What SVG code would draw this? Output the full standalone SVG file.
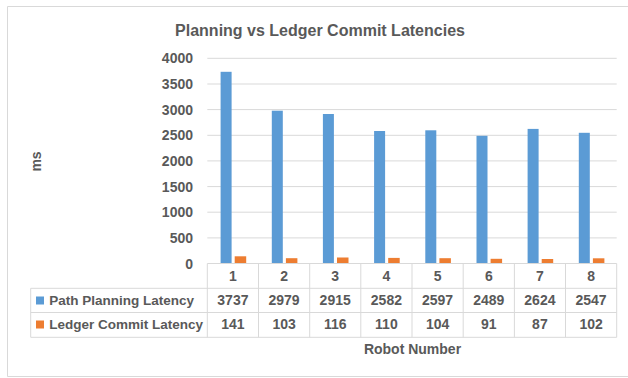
<svg xmlns="http://www.w3.org/2000/svg" width="628" height="378" viewBox="0 0 628 378">
  <style>
    text { font-family: "Liberation Sans", Arial, sans-serif; font-weight: bold; fill: #595959; }
    .tick { font-size: 14px; text-anchor: end; }
    .cell { font-size: 14px; text-anchor: middle; }
    .leg { font-size: 13.5px; }
    .grid { stroke: #D9D9D9; stroke-width: 1; fill: none; }
    .tbl { stroke: #D9D9D9; stroke-width: 1; fill: none; }
    .blue { fill: #5B9BD5; }
    .orange { fill: #ED7D31; }
  </style>
  <rect x="0" y="0" width="628" height="378" fill="#FFFFFF"/>
  <g id="frame">
    <path d="M628,6.5 H7.5 V376.5 H628" stroke="#D9D9D9" stroke-width="1" fill="none"/>
  </g>

  <g id="title">
    <text x="320" y="35.5" font-size="16" text-anchor="middle">Planning vs Ledger Commit Latencies</text>
  </g>

  <g id="y-axis">
    <text transform="translate(41,161.5) rotate(-90)" font-size="14" text-anchor="middle">ms</text>
    <text class="tick" x="193" y="63.3">4000</text>
    <text class="tick" x="193" y="89">3500</text>
    <text class="tick" x="193" y="114.6">3000</text>
    <text class="tick" x="193" y="140.3">2500</text>
    <text class="tick" x="193" y="165.9">2000</text>
    <text class="tick" x="193" y="191.6">1500</text>
    <text class="tick" x="193" y="217.2">1000</text>
    <text class="tick" x="193" y="242.9">500</text>
    <text class="tick" x="193" y="268.5">0</text>
  </g>

  <g id="gridlines">
    <path class="grid" d="M207.3,58.3 H616.7 M207.3,84 H616.7 M207.3,109.6 H616.7 M207.3,135.3 H616.7 M207.3,160.9 H616.7 M207.3,186.6 H616.7 M207.3,212.2 H616.7 M207.3,237.9 H616.7"/>
  </g>

  <g id="series-path-planning">
    <rect class="blue" x="220.6" y="71.8" width="11" height="191.7"/>
    <rect class="blue" x="271.8" y="110.7" width="11" height="152.8"/>
    <rect class="blue" x="322.9" y="114.0" width="11" height="149.5"/>
    <rect class="blue" x="374.1" y="131.0" width="11" height="132.5"/>
    <rect class="blue" x="425.3" y="130.3" width="11" height="133.2"/>
    <rect class="blue" x="476.5" y="135.8" width="11" height="127.7"/>
    <rect class="blue" x="527.6" y="128.9" width="11" height="134.6"/>
    <rect class="blue" x="578.8" y="132.8" width="11" height="130.7"/>
  </g>

  <g id="series-ledger-commit">
    <rect class="orange" x="234.7" y="256.3" width="11.5" height="7.2"/>
    <rect class="orange" x="285.9" y="258.2" width="11.5" height="5.3"/>
    <rect class="orange" x="337.0" y="257.5" width="11.5" height="6.0"/>
    <rect class="orange" x="388.2" y="257.9" width="11.5" height="5.6"/>
    <rect class="orange" x="439.4" y="258.2" width="11.5" height="5.3"/>
    <rect class="orange" x="490.6" y="258.8" width="11.5" height="4.7"/>
    <rect class="orange" x="541.7" y="259.0" width="11.5" height="4.5"/>
    <rect class="orange" x="592.9" y="258.3" width="11.5" height="5.2"/>
  </g>

  <g id="data-table">
    <path class="tbl" d="M207.3,263.5 H616.7 M30.7,288.3 H616.7 M30.7,312.5 H616.7 M30.7,337.3 H616.7 M30.7,288.3 V337.3 M207.3,263.5 V337.3 M258.5,263.5 V337.3 M309.7,263.5 V337.3 M360.8,263.5 V337.3 M412,263.5 V337.3 M463.2,263.5 V337.3 M514.4,263.5 V337.3 M565.5,263.5 V337.3 M616.7,263.5 V337.3"/>
    <g id="category-labels">
      <text class="cell" x="232.9" y="281">1</text>
      <text class="cell" x="284.1" y="281">2</text>
      <text class="cell" x="335.2" y="281">3</text>
      <text class="cell" x="386.4" y="281">4</text>
      <text class="cell" x="437.6" y="281">5</text>
      <text class="cell" x="488.8" y="281">6</text>
      <text class="cell" x="539.9" y="281">7</text>
      <text class="cell" x="591.1" y="281">8</text>
    </g>
    <g id="row-path-planning">
      <rect class="blue" x="36" y="296.5" width="8" height="8"/>
      <text class="leg" x="49.3" y="305">Path Planning Latency</text>
      <text class="cell" x="232.9" y="305">3737</text>
      <text class="cell" x="284.1" y="305">2979</text>
      <text class="cell" x="335.2" y="305">2915</text>
      <text class="cell" x="386.4" y="305">2582</text>
      <text class="cell" x="437.6" y="305">2597</text>
      <text class="cell" x="488.8" y="305">2489</text>
      <text class="cell" x="539.9" y="305">2624</text>
      <text class="cell" x="591.1" y="305">2547</text>
    </g>
    <g id="row-ledger-commit">
      <rect class="orange" x="36" y="320.5" width="8" height="8"/>
      <text class="leg" x="49.3" y="329">Ledger Commit Latency</text>
      <text class="cell" x="232.9" y="329">141</text>
      <text class="cell" x="284.1" y="329">103</text>
      <text class="cell" x="335.2" y="329">116</text>
      <text class="cell" x="386.4" y="329">110</text>
      <text class="cell" x="437.6" y="329">104</text>
      <text class="cell" x="488.8" y="329">91</text>
      <text class="cell" x="539.9" y="329">87</text>
      <text class="cell" x="591.1" y="329">102</text>
    </g>
  </g>

  <g id="x-axis-title">
    <text x="412.5" y="354" font-size="14" text-anchor="middle">Robot Number</text>
  </g>
</svg>
